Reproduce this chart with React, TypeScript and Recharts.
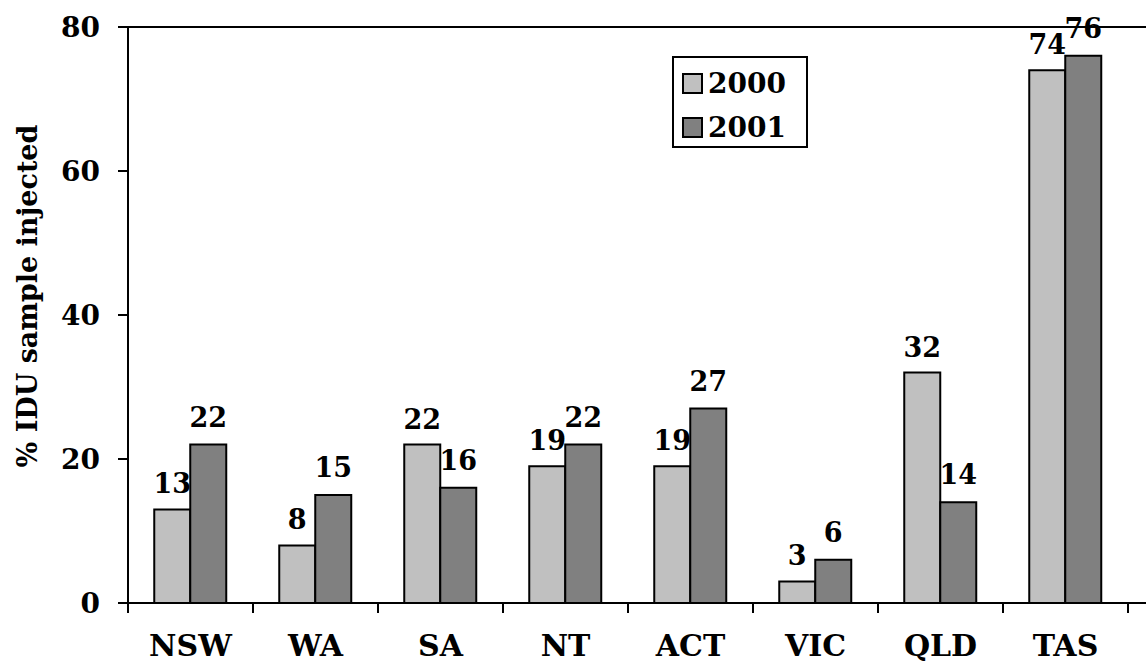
import { BarChart, Bar, XAxis, YAxis, ReferenceLine, LabelList, Legend } from 'recharts'

const states = ['NSW', 'WA', 'SA', 'NT', 'ACT', 'VIC', 'QLD', 'TAS']
const pct2000 = [13, 8, 22, 19, 19, 3, 32, 74]
const pct2001 = [22, 15, 16, 22, 27, 6, 14, 76]
const yTicks = [0, 20, 40, 60, 80]

const FONT = '"DejaVu Serif", serif'
const LIGHT = '#c0c0c0'
const DARK = '#808080'
const TICK = 10
const TICK_MARGIN = 22

const data = states.map((s, i) => ({ state: s, y2000: pct2000[i], y2001: pct2001[i] }))

// category label plus tick marks at the band edges (like Excel's between-category ticks)
function StateTick(props: any) {
  const { x, y, payload, index, visibleTicksCount } = props
  const half = payload.offset || 0
  const axisY = y - TICK - TICK_MARGIN
  const last = index === visibleTicksCount - 1
  return (
    <g>
      <line x1={x - half} x2={x - half} y1={axisY} y2={axisY + TICK} stroke="#000" strokeWidth={2} />
      {last && <line x1={x + half} x2={x + half} y1={axisY} y2={axisY + TICK} stroke="#000" strokeWidth={2} />}
      <text
        x={x}
        y={y}
        dy="0.71em"
        textAnchor="middle"
        style={{ fontFamily: FONT, fontWeight: 'bold', fontSize: 30, fill: '#000' }}
      >
        {payload.value}
      </text>
    </g>
  )
}

function LegendBox() {
  const items = [
    { name: '2000', color: LIGHT },
    { name: '2001', color: DARK },
  ]
  return (
    <div
      style={{
        border: '2px solid #000',
        background: '#fff',
        width: 136,
        height: 92,
        boxSizing: 'border-box',
        padding: '3px 0 0 8px',
        fontFamily: FONT,
        fontWeight: 'bold',
        fontSize: 28,
        textAlign: 'left',
      }}
    >
      {items.map((it) => (
        <div key={it.name} style={{ display: 'flex', alignItems: 'center', height: 44 }}>
          <span
            style={{
              display: 'inline-block',
              width: 17,
              height: 17,
              background: it.color,
              border: '2px solid #000',
              marginRight: 5,
            }}
          />
          <span>{it.name}</span>
        </div>
      ))}
    </div>
  )
}

const labelStyle = { fontFamily: FONT, fontWeight: 'bold', fontSize: 27, fill: '#000' }

export default function App() {
  return (
    <div style={{ position: 'absolute', left: 0, top: 0, background: '#fff' }}>
      <BarChart
        width={1146}
        height={664}
        data={data}
        margin={{ top: 27, right: 0, left: 0, bottom: 0 }}
        barGap={0}
        barCategoryGap="21%"
      >
        <XAxis
          dataKey="state"
          height={61}
          tickLine={false}
          tickSize={TICK}
          tickMargin={TICK_MARGIN}
          axisLine={{ stroke: '#000', strokeWidth: 2 }}
          padding={{ left: 0, right: 18 }}
          interval={0}
          tick={<StateTick />}
        />
        <YAxis
          width={128}
          domain={[0, 80]}
          ticks={yTicks}
          tickSize={10}
          tickMargin={18}
          axisLine={{ stroke: '#000', strokeWidth: 2 }}
          tickLine={{ stroke: '#000', strokeWidth: 2 }}
          tick={{ fontFamily: FONT, fontWeight: 'bold', fontSize: 28, fill: '#000' }}
          label={{
            content: () => (
              <text
                x={27}
                y={296}
                transform="rotate(-90 27 296)"
                textAnchor="middle"
                dominantBaseline="central"
                style={{ fontFamily: FONT, fontWeight: 'bold', fontSize: 27, fill: '#000' }}
              >
                % IDU sample injected
              </text>
            ),
          }}
        />
        <ReferenceLine y={80} stroke="#000" strokeWidth={2} />
        <Legend
          layout="horizontal"
          verticalAlign="middle"
          align="center"
          content={() => <LegendBox />}
          wrapperStyle={{ left: 672, top: 56, width: 136, height: 92 }}
        />
        <Bar dataKey="y2000" name="2000" fill={LIGHT} stroke="#000" strokeWidth={2} isAnimationActive={false}>
          <LabelList dataKey="y2000" position="top" offset={16} style={labelStyle} />
        </Bar>
        <Bar dataKey="y2001" name="2001" fill={DARK} stroke="#000" strokeWidth={2} isAnimationActive={false}>
          <LabelList dataKey="y2001" position="top" offset={18} style={labelStyle} />
        </Bar>
      </BarChart>
    </div>
  )
}
